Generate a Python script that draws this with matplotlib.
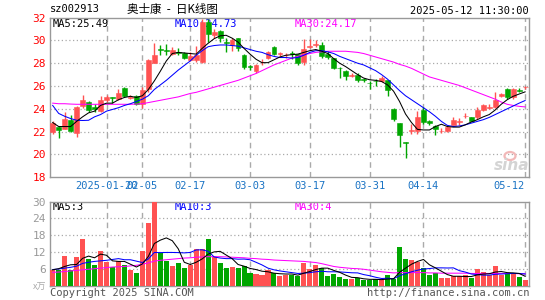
import matplotlib.pyplot as plt
from matplotlib.patches import Ellipse

plt.rcParams['font.family'] = ['DejaVu Sans Mono', 'Noto Sans CJK SC']

# K-line data (one entry per trading day, 2025-01-07 .. 2025-05-12)
opens = [22.0, 22.38, 22.25, 23.05, 21.85, 24.25, 24.58, 24.15, 23.85, 24.8,
         25.0, 24.84, 25.85, 24.95, 25.1, 24.46, 25.7, 28.05, 29.25, 29.2,
         28.85, 29.0, 28.86, 28.3, 28.3, 28.1, 31.65, 30.5, 30.85, 29.85,
         29.6, 30.17, 28.72, 27.75, 27.35, 28.1, 28.5, 29.45, 28.8, 28.68,
         28.9, 28.77, 28.12, 29.45, 29.6, 29.6, 28.85, 28.42, 27.6, 27.3,
         26.9, 27.0, 26.6, 26.3, 26.45, 26.42, 26.5, 24.0, 22.74, 21.1,
         22.1, 22.09, 23.9, 22.97, 22.53, 22.05, 22.05, 22.62, 22.85, 23.35,
         23.26, 23.26, 23.9, 24.1, 24.15, 25.09, 25.76, 25.03, 25.65, 25.88]
closes = [22.75, 22.15, 23.15, 22.02, 24.2, 24.8, 23.9, 24.0, 24.75, 25.0,
          24.95, 25.4, 25.1, 25.05, 24.45, 25.63, 28.3, 28.7, 29.15, 29.1,
          29.2, 28.88, 28.45, 28.63, 28.7, 31.6, 30.6, 30.76, 30.17, 29.75,
          30.03, 29.3, 27.7, 27.7, 27.84, 28.15, 29.0, 28.8, 28.86, 28.75,
          28.85, 28.0, 29.24, 29.5, 29.65, 28.65, 28.56, 27.6, 27.54, 26.86,
          26.95, 26.5, 26.55, 26.25, 26.4, 26.74, 25.63, 23.08, 21.7, 21.05,
          22.15, 23.32, 22.85, 22.74, 22.24, 22.1, 22.44, 23.03, 22.9, 23.4,
          22.97, 23.9, 24.35, 24.15, 24.8, 25.32, 25.03, 25.7, 25.6, 25.92]
highs = [22.9, 22.5, 23.7, 23.5, 24.25, 25.2, 24.7, 24.45, 25.15, 25.25,
         25.05, 25.78, 25.9, 25.2, 25.2, 25.9, 28.35, 29.75, 29.6, 29.65,
         29.45, 29.3, 28.95, 29.0, 29.5, 31.9, 31.9, 31.0, 30.9, 30.23,
         30.23, 30.2, 28.85, 27.85, 27.9, 28.35, 29.05, 29.5, 29.0, 28.9,
         29.1, 28.85, 30.1, 30.12, 30.0, 29.85, 29.1, 28.45, 27.7, 27.4,
         27.15, 27.1, 26.7, 26.4, 26.6, 26.85, 26.55, 24.05, 22.8, 21.1,
         22.7, 23.85, 24.15, 23.05, 22.6, 22.3, 22.5, 23.26, 23.2, 23.6,
         23.3, 24.15, 24.45, 24.4, 25.45, 25.35, 25.85, 25.8, 25.8, 26.0]
lows = [21.8, 21.45, 22.2, 21.95, 21.55, 24.1, 23.75, 23.75, 23.7, 24.6,
        24.5, 24.75, 25.0, 24.85, 24.35, 24.08, 25.5, 28.0, 28.7, 28.75,
        28.75, 28.7, 28.35, 28.2, 28.1, 28.0, 29.9, 30.2, 29.9, 29.0,
        29.1, 29.1, 27.5, 27.4, 27.1, 27.85, 28.4, 28.7, 28.6, 28.5,
        28.4, 27.83, 27.83, 29.3, 29.4, 28.5, 28.4, 27.5, 26.7, 26.5,
        26.8, 26.35, 26.35, 25.7, 26.0, 26.35, 25.1, 22.95, 20.7, 19.7,
        21.8, 21.8, 22.7, 22.6, 21.7, 21.9, 22.0, 22.55, 22.6, 23.2,
        22.9, 23.1, 23.85, 23.95, 24.1, 25.05, 24.85, 24.9, 25.45, 25.7]

ma5 = [22.8, 22.45, 22.45, 22.45, 22.9, 23.3, 23.65, 23.8, 24.3, 24.5,
       24.5, 24.8, 25.0, 25.1, 25.0, 25.15, 25.7, 26.45, 27.3, 28.2,
       28.85, 28.95, 28.9, 28.85, 28.8, 29.3, 29.75, 30.15, 30.4, 30.45,
       30.2, 29.85, 29.3, 28.8, 28.35, 28.05, 28.05, 28.3, 28.55, 28.7,
       28.75, 28.8, 28.95, 29.1, 29.2, 29.05, 28.85, 28.4, 28.0, 27.7,
       27.35, 27.0, 26.7, 26.55, 26.5, 26.4, 26.1, 25.55, 24.65, 23.55,
       22.8, 22.2, 22.15, 22.15, 22.45, 22.65, 22.45, 22.4, 22.4, 22.6,
       22.85, 23.05, 23.3, 23.5, 23.9, 24.4, 24.8, 25.1, 25.3, 25.49]
ma10 = [24.3, 23.6, 23.35, 23.15, 23.0, 22.98, 23.0, 23.3, 23.5, 23.8,
        23.95, 24.1, 24.3, 24.45, 24.65, 24.85, 25.15, 25.7, 26.1, 26.5,
        26.95, 27.4, 27.8, 28.2, 28.7, 29.1, 29.45, 29.55, 29.6, 29.6,
        29.55, 29.5, 29.35, 29.2, 29.05, 28.95, 28.75, 28.6, 28.5, 28.5,
        28.45, 28.5, 28.7, 28.95, 29.1, 29.1, 29.0, 28.85, 28.6, 28.4,
        28.2, 28.0, 27.85, 27.6, 27.35, 27.0, 26.6, 26.1, 25.6, 25.15,
        24.8, 24.45, 24.1, 23.75, 23.35, 22.9, 22.55, 22.45, 22.5, 22.6,
        22.75, 22.9, 23.05, 23.25, 23.5, 23.75, 24.0, 24.25, 24.5, 24.73]
ma30 = [24.5, 24.45, 24.45, 24.42, 24.4, 24.4, 24.4, 24.4, 24.4, 24.4,
        24.4, 24.4, 24.4, 24.4, 24.42, 24.45, 24.55, 24.65, 24.75, 24.85,
        24.95, 25.05, 25.2, 25.35, 25.45, 25.6, 25.75, 25.9, 26.05, 26.2,
        26.35, 26.5, 26.7, 26.9, 27.1, 27.35, 27.6, 27.85, 28.05, 28.25,
        28.45, 28.6, 28.75, 28.85, 28.95, 29.0, 29.05, 29.05, 29.05, 29.05,
        29.0, 28.95, 28.85, 28.7, 28.55, 28.4, 28.25, 28.1, 27.9, 27.75,
        27.55, 27.3, 27.05, 26.8, 26.65, 26.5, 26.35, 26.2, 26.05, 25.85,
        25.65, 25.45, 25.25, 25.05, 24.85, 24.6, 24.4, 24.3, 24.22, 24.17]

# volume in 万手
volumes = [5.7, 5.7, 10.5, 5.5, 10.3, 16.6, 9.4, 7.3, 12.3, 8.5,
           6.5, 8.7, 7.3, 5.5, 4.5, 12.3, 22.5, 31.0, 11.7, 8.7,
           6.9, 8.1, 6.3, 7.3, 13.0, 13.0, 16.6, 10.3, 8.1, 6.3,
           6.7, 6.3, 6.9, 4.5, 4.1, 3.7, 5.5, 4.3, 3.3, 3.7,
           3.7, 3.3, 8.1, 6.0, 7.3, 6.1, 3.3, 4.1, 2.9, 2.2,
           2.2, 2.7, 1.9, 1.9, 2.2, 1.9, 3.6, 2.4, 13.6, 9.4,
           9.1, 8.5, 6.1, 3.7, 4.3, 2.7, 2.7, 3.3, 3.3, 3.9,
           2.7, 5.9, 4.9, 3.7, 6.8, 3.7, 4.1, 4.1, 2.9, 1.9]
vol_ma5 = [5.6, 6.0, 6.8, 7.4, 7.5, 9.7, 10.5, 9.9, 11.2, 10.8,
           8.8, 8.6, 8.6, 7.6, 6.6, 7.7, 10.4, 15.0, 16.2, 17.0,
           16.0, 13.1, 8.3, 7.5, 8.3, 9.5, 11.2, 12.0, 12.2, 10.9,
           9.6, 7.5, 6.9, 6.1, 5.7, 5.1, 4.9, 4.4, 4.2, 4.1,
           4.1, 3.7, 4.4, 5.0, 5.7, 6.2, 6.2, 5.4, 4.7, 3.7,
           2.9, 2.8, 2.4, 2.2, 2.2, 2.1, 2.3, 2.4, 4.7, 6.2,
           7.6, 8.6, 9.3, 7.4, 6.3, 5.1, 3.9, 3.3, 3.3, 3.2,
           3.2, 3.8, 4.1, 4.2, 4.8, 5.0, 4.6, 4.5, 4.3, 3.3]
vol_ma10 = [5.7, 5.9, 6.2, 6.5, 6.9, 7.9, 8.3, 8.6, 8.8, 9.0,
            9.3, 9.6, 9.2, 9.2, 8.7, 8.2, 9.5, 11.8, 11.75, 11.8,
            11.8, 11.75, 11.65, 11.8, 12.7, 12.75, 12.2, 10.2, 9.8, 9.6,
            9.6, 9.4, 9.45, 9.2, 8.3, 7.35, 6.2, 5.6, 5.2, 4.9,
            4.6, 4.3, 4.4, 4.6, 4.9, 5.1, 4.9, 4.9, 4.85, 4.7,
            4.55, 4.5, 3.9, 3.5, 2.95, 2.5, 2.6, 2.4, 3.5, 4.2,
            4.9, 5.45, 5.9, 6.05, 6.3, 6.3, 6.25, 6.3, 5.3, 4.8,
            4.1, 3.9, 3.7, 3.7, 4.0, 4.1, 4.2, 4.3, 4.3, 4.1]
vol_ma30 = [4.7, 4.8, 5.0, 5.2, 5.4, 5.6, 5.8, 6.0, 6.2, 6.4,
            6.6, 6.7, 6.8, 7.0, 7.2, 7.6, 8.1, 8.7, 9.0, 9.2,
            9.4, 9.6, 9.8, 9.9, 10.1, 10.2, 10.3, 10.3, 10.3, 10.2,
            10.1, 10.0, 9.9, 9.7, 9.6, 9.4, 9.3, 9.1, 9.0, 8.9,
            8.8, 8.7, 8.6, 8.4, 8.2, 7.8, 7.3, 6.8, 6.5, 6.3,
            6.1, 6.0, 5.8, 5.5, 5.2, 4.9, 4.7, 4.5, 4.6, 4.6,
            4.6, 4.6, 4.6, 4.5, 4.5, 4.4, 4.4, 4.4, 4.4, 4.4,
            4.3, 4.3, 4.3, 4.3, 4.3, 4.3, 4.3, 4.3, 4.2, 4.2]

tick_pos = [9, 15, 23, 33, 43, 53, 62, 79]
tick_labels = ["2025-01-20", "02-05", "02-17", "03-03", "03-17", "03-31", "04-14", "05-12"]

UP = '#ff5252'
DOWN = '#00a600'
GRID = '#aaaaaa'
FRAME = '#999999'
LW = 0.75

n = len(closes)
x = list(range(n))
colors = [UP if c >= o else DOWN for o, c in zip(opens, closes)]

fig = plt.figure(figsize=(5.45, 3.0), dpi=100)
W, H = 545.0, 300.0
ax = fig.add_axes([50 / W, 1 - 177.3 / H, 479.3 / W, 159.7 / H])
axv = fig.add_axes([50 / W, 1 - 285.5 / H, 479.3 / W, 84 / H])

for a in (ax, axv):
    for s in a.spines.values():
        s.set_color(FRAME)
        s.set_linewidth(1.0)
    a.set_xlim(-0.45, 79.7)
    a.tick_params(length=0)
    for t in tick_pos:
        a.axvline(t, color=GRID, lw=1.0, ls=(0, (4, 3)), zorder=0)

# candles
for i in x:
    o, c, h, l = opens[i], closes[i], highs[i], lows[i]
    ax.vlines(i, l, h, color=colors[i], lw=1.0, zorder=3)
    body = max(abs(c - o), 0.05)
    ax.bar(i, body, bottom=min(o, c), width=0.8, color=colors[i],
           edgecolor=colors[i], lw=0.4, zorder=4)
ax.plot(x, ma30, color='#ff00ff', lw=LW, zorder=5)
ax.plot(x, ma10, color='#0000ff', lw=LW, zorder=5)
ax.plot(x, ma5, color='#000000', lw=LW, zorder=6)

ax.set_ylim(18, 32)
ax.set_yticks(range(18, 33, 2))
for v in range(20, 32, 2):
    ax.axhline(v, color=GRID, lw=0.9, ls=(0, (1, 2)), zorder=0)
ax.tick_params(axis='y', colors='#ff0000', labelsize=8, pad=3)
ax.set_xticks(tick_pos)
ax.set_xticklabels(tick_labels)
ax.tick_params(axis='x', colors='#1a73c4', labelsize=7.5, pad=3)
ax.get_xticklabels()[-1].set_ha('right')

# volume panel
axv.bar(x, volumes, width=0.85, color=colors, lw=0, zorder=3)
axv.plot(x, vol_ma30, color='#ff00ff', lw=LW, zorder=5)
axv.plot(x, vol_ma10, color='#0000ff', lw=LW, zorder=5)
axv.plot(x, vol_ma5, color='#000000', lw=LW, zorder=6)
axv.set_ylim(0, 30)
axv.set_yticks([6, 12, 18, 24, 30])
for v in [6, 12, 18, 24]:
    axv.axhline(v, color=GRID, lw=0.9, ls=(0, (1, 2)), zorder=0)
axv.tick_params(axis='y', colors='#999999', labelsize=8, pad=3)
axv.set_xticks(tick_pos)
axv.set_xticklabels([])


def px(xp, yp):
    return xp / W, 1 - yp / H


fs = 7.5
fig.text(*px(50, 9.5), "sz002913", fontsize=fs, va='center', ha='left')
fig.text(*px(172, 9), "奥士康  -  日K线图", fontsize=8.3, va='center', ha='center',
         family=['Noto Sans CJK SC', 'DejaVu Sans'])
fig.text(*px(529, 10.5), "2025-05-12 11:30:00", fontsize=fs, va='center', ha='right')

ax.text(*px(53, 24), "MA5:25.49", transform=fig.transFigure, fontsize=fs, va='center', color='#000000', zorder=1)
ax.text(*px(175, 24), "MA10:24.73", transform=fig.transFigure, fontsize=fs, va='center', color='#0000ff', zorder=1)
ax.text(*px(295, 24), "MA30:24.17", transform=fig.transFigure, fontsize=fs, va='center', color='#ff00ff', zorder=1)

axv.text(*px(53, 206.5), "MA5:3", transform=fig.transFigure, fontsize=fs, va='center', color='#000000', zorder=1)
axv.text(*px(175, 206.5), "MA10:3", transform=fig.transFigure, fontsize=fs, va='center', color='#0000ff', zorder=1)
axv.text(*px(295, 206.5), "MA30:4", transform=fig.transFigure, fontsize=fs, va='center', color='#ff00ff', zorder=1)

fig.text(*px(46, 287), "x万", fontsize=6.5, va='center', ha='right', color='#aaaaaa',
         family=['Noto Sans CJK SC', 'DejaVu Sans'])
fig.text(*px(50, 293), "Copyright 2025 SINA.COM", fontsize=fs, va='center', ha='left', color='#555555')
fig.text(*px(529, 293), "http://finance.sina.com.cn", fontsize=fs, va='center', ha='right', color='#555555')

# sina watermark
fig.add_artist(Ellipse(px(510, 156), 11 / W, 8 / H, transform=fig.transFigure,
                       facecolor='none', edgecolor='#f2b8b8', lw=1.6))
fig.text(*px(512, 166), "sina", fontsize=11, va='center', ha='center', color='#d4d4d4',
         style='italic', weight='bold', family='DejaVu Sans')

fig.savefig("out.png", dpi=100)
